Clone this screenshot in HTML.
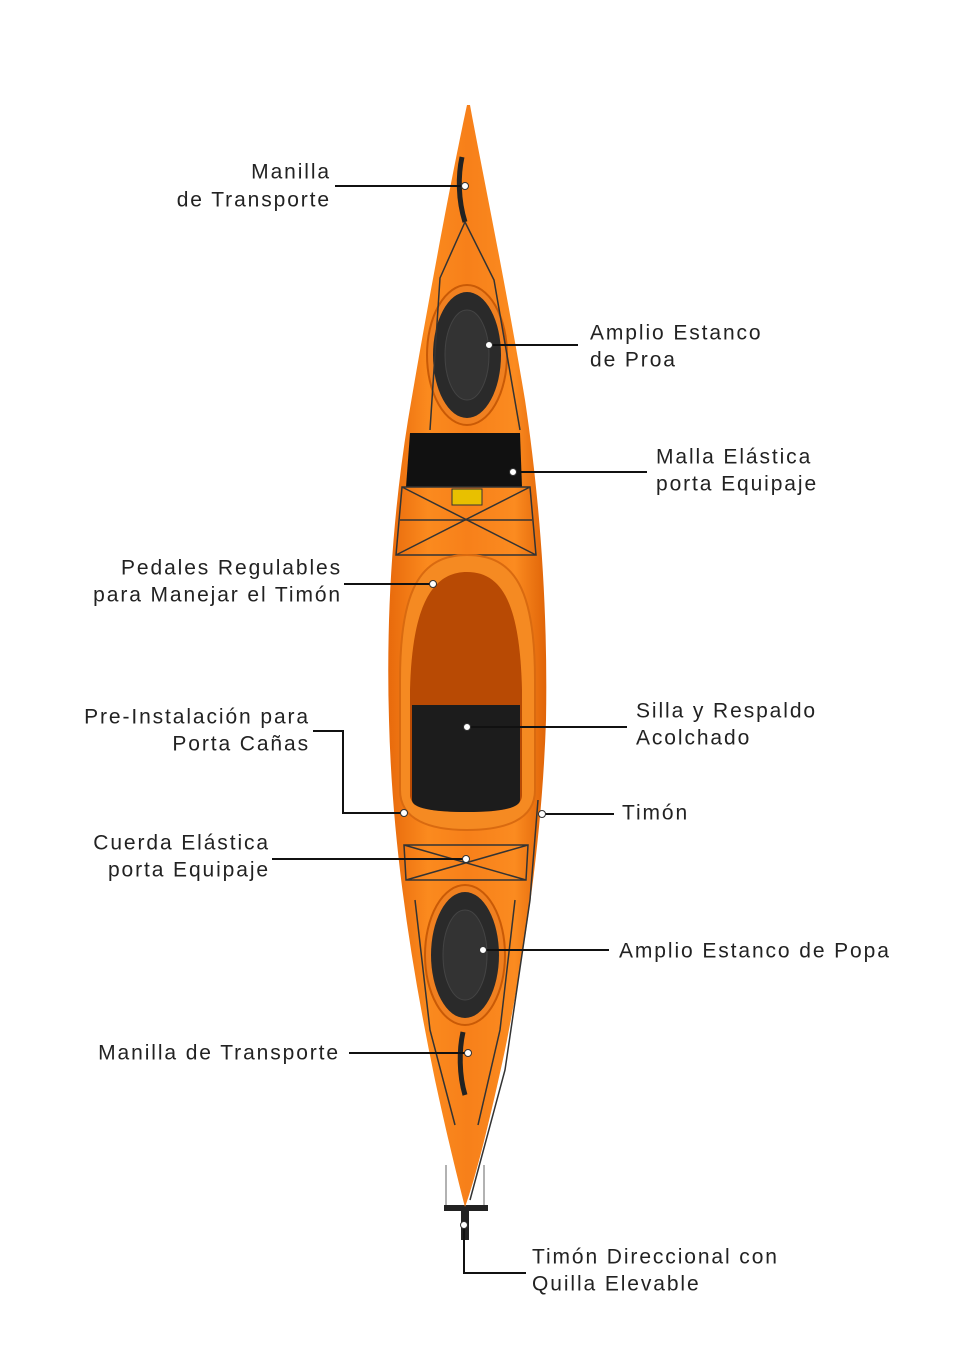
<!DOCTYPE html>
<html><head><meta charset="utf-8"><style>
html,body{margin:0;padding:0;background:#fff;}
svg{display:block;}
text{font-family:"Liberation Sans",sans-serif;font-size:21px;fill:#222;dominant-baseline:central;letter-spacing:1.9px;}
</style></head><body>
<svg width="980" height="1359" viewBox="0 0 980 1359" xmlns="http://www.w3.org/2000/svg">
<defs>
<linearGradient id="hull" x1="0" x2="1" y1="0" y2="0">
<stop offset="0" stop-color="#e86a0c"/><stop offset="0.25" stop-color="#fb8a1e"/><stop offset="0.5" stop-color="#f7801a"/><stop offset="0.8" stop-color="#fb8b20"/><stop offset="1" stop-color="#e06408"/>
</linearGradient>
</defs>
<line x1="446" y1="1165" x2="446" y2="1208" stroke="#999" stroke-width="1.5"/>
<line x1="484" y1="1165" x2="484" y2="1208" stroke="#999" stroke-width="1.5"/>
<rect x="444" y="1205" width="44" height="6" fill="#222"/>
<rect x="461" y="1208" width="8" height="32" fill="#222"/>
<path d="M467,105 C455,160 430,290 408,420 C392,520 386,620 389,720 C392,840 410,960 435,1080 C448,1140 458,1180 465,1207 C475,1180 490,1120 505,1050 C525,950 542,840 546,720 C548,610 540,500 525,400 C505,280 480,160 470,105 Z" fill="url(#hull)"/>
<path d="M462,157 C458,175 458,200 465,222" stroke="#222" stroke-width="5" fill="none"/>
<ellipse cx="467" cy="355" rx="40" ry="70" fill="#f08020" stroke="#c95a06" stroke-width="2"/>
<ellipse cx="467" cy="355" rx="34" ry="63" fill="#2a2a2a"/>
<ellipse cx="467" cy="355" rx="22" ry="45" fill="#333" stroke="#444"/>
<path d="M465,222 L440,278 L430,430 M465,222 L494,280 L520,430" stroke="#333" stroke-width="1.5" fill="none"/>
<path d="M410,433 L520,433 L522,487 L406,487 Z" fill="#111"/>
<rect x="452" y="489" width="30" height="16" fill="#e8c000" stroke="#333"/>
<path d="M402,487 L530,487 L536,555 L396,555 Z M402,487 L536,555 M530,487 L396,555 M400,520 L532,520" stroke="#333" stroke-width="1.5" fill="none"/>
<path d="M467,555 C420,555 400,590 400,680 L400,790 C400,820 430,830 467,830 C505,830 535,820 535,790 L535,680 C535,590 515,555 467,555 Z" fill="#f58a22" stroke="#d96a10" stroke-width="2"/>
<path d="M467,572 C430,572 412,610 410,690 L410,795 C410,808 430,812 467,812 C505,812 522,808 522,795 L522,690 C520,610 505,572 467,572 Z" fill="#b84a04"/>
<path d="M412,705 L520,705 L520,800 C520,808 500,812 467,812 C432,812 412,808 412,800 Z" fill="#1c1c1c"/>
<path d="M404,845 L528,845 L526,880 L406,880 Z M404,845 L526,880 M528,845 L406,880" stroke="#333" stroke-width="1.5" fill="none"/>
<ellipse cx="465" cy="955" rx="40" ry="70" fill="#f08020" stroke="#c95a06" stroke-width="2"/>
<ellipse cx="465" cy="955" rx="34" ry="63" fill="#2a2a2a"/>
<ellipse cx="465" cy="955" rx="22" ry="45" fill="#333" stroke="#444"/>
<path d="M415,900 L430,1030 L455,1125 M515,900 L500,1030 L478,1125 M538,800 L530,900 L505,1070 L470,1200" stroke="#333" stroke-width="1.5" fill="none"/>
<path d="M463,1032 C459,1050 459,1075 465,1095" stroke="#222" stroke-width="5" fill="none"/>
<g stroke="#111" stroke-width="2" fill="none">
<path d="M335,186 H465"/>
<path d="M489,345 H578"/>
<path d="M513,472 H647"/>
<path d="M344,584 H433"/>
<path d="M313,731 H343 V813 H404"/>
<path d="M467,727 H627"/>
<path d="M542,814 H614"/>
<path d="M272,859 H466"/>
<path d="M483,950 H609"/>
<path d="M349,1053 H468"/>
<path d="M464,1225 V1273 H526"/>
</g>
<g fill="#fff" stroke="#333" stroke-width="1">
<circle cx="465" cy="186" r="3.5"/><circle cx="489" cy="345" r="3.5"/><circle cx="513" cy="472" r="3.5"/>
<circle cx="433" cy="584" r="3.5"/><circle cx="404" cy="813" r="3.5"/><circle cx="467" cy="727" r="3.5"/>
<circle cx="542" cy="814" r="3.5"/><circle cx="466" cy="859" r="3.5"/><circle cx="483" cy="950" r="3.5"/>
<circle cx="468" cy="1053" r="3.5"/><circle cx="464" cy="1225" r="3.5"/>
</g>
<g text-anchor="end">
<text x="331" y="172">Manilla</text><text x="331" y="200">de Transporte</text>
<text x="342" y="568">Pedales Regulables</text><text x="342" y="595">para Manejar el Timón</text>
<text x="310" y="717">Pre-Instalación para</text><text x="310" y="744">Porta Cañas</text>
<text x="270" y="843">Cuerda Elástica</text><text x="270" y="870">porta Equipaje</text>
<text x="340" y="1053">Manilla de Transporte</text>
</g>
<text x="590" y="333">Amplio Estanco</text><text x="590" y="360">de Proa</text>
<text x="656" y="457">Malla Elástica</text><text x="656" y="484">porta Equipaje</text>
<text x="636" y="711">Silla y Respaldo</text><text x="636" y="738">Acolchado</text>
<text x="622" y="813">Timón</text>
<text x="619" y="951">Amplio Estanco de Popa</text>
<text x="532" y="1257">Timón Direccional con</text><text x="532" y="1284">Quilla Elevable</text>
</svg>
</body></html>
